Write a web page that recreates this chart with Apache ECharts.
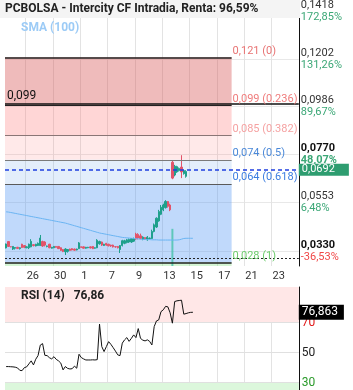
<!DOCTYPE html>
<html>
<head>
<meta charset="utf-8">
<script src="https://cdn.jsdelivr.net/npm/echarts@6/dist/echarts.min.js"></script>
<style>
    html, body { margin: 0; padding: 0; background: #fff; }
    #chart { width: 353px; height: 390px; }
</style>
</head>
<body>
<div id="chart"></div>
<script>
    // slots on the x axis (intraday bars), date ticks every 12 slots
    var slotCount = 129;
    var dateTickSlots = [9, 21, 33, 45, 57, 69, 81, 93, 105, 117];
    var dateTicks = ['26', '30', '1', '7', '9', '13', '15', '17', '21', '23'];

    // [open, close, low, high]
    var candles = [
        [0.0345, 0.0363, 0.0343, 0.0365], [0.0374, 0.0352, 0.0350, 0.0376], [0.0351, 0.0350, 0.0348, 0.0352],
        [0.0340, 0.0352, 0.0336, 0.0353], [0.0344, 0.0347, 0.0338, 0.0349], [0.0348, 0.0343, 0.0340, 0.0350],
        [0.0342, 0.0346, 0.0338, 0.0348], [0.0362, 0.0347, 0.0345, 0.0364], [0.0356, 0.0348, 0.0344, 0.0358],
        [0.0346, 0.0350, 0.0344, 0.0352], [0.0346, 0.0362, 0.0340, 0.0365], [0.0350, 0.0375, 0.0348, 0.0385],
        [0.0360, 0.0356, 0.0352, 0.0362], [0.0354, 0.0362, 0.0352, 0.0364], [0.0356, 0.0366, 0.0354, 0.0370],
        [0.0356, 0.0390, 0.0354, 0.0404], [0.0374, 0.0354, 0.0350, 0.0378], [0.0372, 0.0358, 0.0352, 0.0376],
        [0.0352, 0.0354, 0.0348, 0.0356], [0.0362, 0.0346, 0.0344, 0.0364], [0.0344, 0.0348, 0.0342, 0.0350],
        [0.0346, 0.0352, 0.0344, 0.0354], [0.0352, 0.0348, 0.0346, 0.0354], [0.0352, 0.0342, 0.0340, 0.0354],
        [0.0346, 0.0334, 0.0332, 0.0348], [0.0338, 0.0329, 0.0326, 0.0340], [0.0328, 0.0340, 0.0313, 0.0344],
        [0.0330, 0.0338, 0.0324, 0.0340], [0.0340, 0.0334, 0.0332, 0.0342], [0.0342, 0.0336, 0.0334, 0.0344],
        [0.0340, 0.0335, 0.0333, 0.0342], [0.0336, 0.0340, 0.0334, 0.0342], [0.0342, 0.0368, 0.0340, 0.0372],
        [0.0350, 0.0348, 0.0345, 0.0352], [0.0350, 0.0344, 0.0342, 0.0352], [0.0344, 0.0348, 0.0342, 0.0350],
        [0.0346, 0.0348, 0.0344, 0.0350], [0.0350, 0.0345, 0.0343, 0.0352], [0.0352, 0.0342, 0.0340, 0.0354],
        [0.0344, 0.0346, 0.0342, 0.0348], [0.0346, 0.0380, 0.0344, 0.0385], [0.0364, 0.0374, 0.0360, 0.0378],
        [0.0372, 0.0358, 0.0354, 0.0374], [0.0356, 0.0362, 0.0354, 0.0364], [0.0366, 0.0358, 0.0355, 0.0368],
        [0.0362, 0.0355, 0.0352, 0.0364], [0.0358, 0.0354, 0.0350, 0.0360], [0.0358, 0.0350, 0.0347, 0.0360],
        [0.0351, 0.0350, 0.0346, 0.0352], [0.0352, 0.0346, 0.0343, 0.0354], [0.0338, 0.0356, 0.0322, 0.0358],
        [0.0356, 0.0378, 0.0352, 0.0382], [0.0366, 0.0378, 0.0362, 0.0382], [0.0370, 0.0382, 0.0366, 0.0386],
        [0.0372, 0.0384, 0.0368, 0.0388], [0.0372, 0.0388, 0.0368, 0.0390], [0.0376, 0.0386, 0.0372, 0.0392],
        [0.0408, 0.0386, 0.0382, 0.0414], [0.0406, 0.0390, 0.0384, 0.0412], [0.0400, 0.0388, 0.0384, 0.0410],
        [0.0384, 0.0394, 0.0380, 0.0398], [0.0392, 0.0386, 0.0382, 0.0394], [0.0382, 0.0394, 0.0378, 0.0399],
        [0.0388, 0.0390, 0.0384, 0.0392], [0.0388, 0.0420, 0.0386, 0.0428], [0.0420, 0.0450, 0.0416, 0.0456],
        [0.0440, 0.0480, 0.0436, 0.0484], [0.0468, 0.0510, 0.0464, 0.0518], [0.0498, 0.0530, 0.0494, 0.0540],
        [0.0518, 0.0540, 0.0512, 0.0546], [0.0528, 0.0556, 0.0524, 0.0562], [0.0556, 0.0534, 0.0528, 0.0558],
        [0.0540, 0.0518, 0.0512, 0.0546], [0.0734, 0.0662, 0.0657, 0.0743], [0.0676, 0.0716, 0.0670, 0.0722],
        [0.0690, 0.0714, 0.0686, 0.0718], [0.0696, 0.0706, 0.0692, 0.0710], [0.0712, 0.0690, 0.0662, 0.0766],
        [0.0682, 0.0696, 0.0678, 0.0700], [0.0670, 0.0692, 0.0664, 0.0698]
    ];

    var sma100 = [
        0.0509, 0.0508, 0.0506, 0.0504, 0.0502, 0.0500, 0.0498, 0.0496, 0.0494, 0.0492, 0.0490,
        0.0488, 0.0486, 0.0484, 0.0482, 0.0480, 0.0478, 0.0476, 0.0474, 0.0472, 0.0470,
        0.0468, 0.0466, 0.0464, 0.0462, 0.0460, 0.0458, 0.0455, 0.0452, 0.0449, 0.0446,
        0.0443, 0.0440, 0.0437, 0.0434, 0.0431, 0.0428, 0.0425, 0.0422, 0.0419, 0.0416,
        0.0413, 0.0411, 0.0409, 0.0407, 0.0405, 0.0403, 0.0401, 0.0399, 0.0397, 0.0395,
        0.0393, 0.0392, 0.0391, 0.0390, 0.0389, 0.0388, 0.0387, 0.0386, 0.0385, 0.0384,
        0.0384, 0.0383, 0.0383, 0.0382, 0.0382, 0.0382, 0.0381, 0.0381, 0.0381, 0.0381,
        0.0381, 0.0381, 0.0381, 0.0381, 0.0381, 0.0382, 0.0385, 0.0388, 0.0389, 0.0389, 0.0389, 0.0389
    ];

    // [slot, volume]
    var volumeBars = [[73, 14]];

    var rsi14 = [
        40.7, 40.7, 40.6, 40.5, 40.3, 39.8, 38.2, 38.0, 40.0, 40.5,
        42.5, 44.5, 41.8, 45.6, 48.0, 55.0, 56.0, 48.2, 48.0, 46.6,
        45.8, 47.3, 45.5, 44.5, 43.0, 38.5, 40.7, 39.5, 39.1, 39.3,
        41.0, 39.6, 48.9, 46.7, 45.8, 45.1, 45.1, 45.1, 45.2, 45.1,
        45.3, 69.0, 54.0, 50.7, 54.0, 57.3, 55.5, 53.3, 51.0, 48.5,
        48.0, 56.3, 58.5, 60.0, 57.5, 59.5, 61.8, 60.0, 66.0, 59.5,
        58.3, 57.8, 58.5, 57.5, 55.1, 67.3, 71.1, 71.8, 77.3, 78.5,
        80.8, 80.5, 76.5, 69.6, 84.0, 84.5, 84.7, 84.9, 75.6, 76.0,
        76.5, 76.8, 76.863
    ];

    // price axis
    var priceMin = 0.02632, priceMax = 0.14682;
    var priceTicks = [0.0330, 0.0553, 0.0770, 0.0986, 0.1202, 0.1418];
    var priceTickText = ['0,0330', '0,0553', '0,0770', '0,0986', '0,1202', '0,1418'];
    var priceTickPct = ['-36,53%', '6,48%', '48,07%', '89,67%', '131,26%', '172,85%'];
    var boldTicks = [0.0330, 0.0770];

    // fibonacci retracement 0.121 -> 0.028
    var fibHigh = 0.121, fibLow = 0.028;
    var fibRatios = [0, 0.236, 0.382, 0.5, 0.618, 1];
    var fibLabels = ['0,121 (0)', '0,099 (0.236)', '0,085 (0.382)', '0,074 (0.5)', '0,064 (0.618)', '0,028 (1)'];
    var fibLabelColors = ['#e87474', '#ef7c7c', '#f5a2a2', '#4a88d8', '#3b7de0', '#6ccc6c'];
    var fibLineColors = ['#222', '#222', '#8a7676', '#7a7a7a', '#5a5a5a', '#222'];
    var fibZoneColors = ['rgba(215,85,85,0.4)', 'rgba(255,120,120,0.3)', 'rgba(255,120,120,0.16)',
        'rgba(100,160,235,0.18)', 'rgba(80,150,245,0.36)', 'rgba(100,220,100,0.28)'];
    var fibEndSlot = 99;

    var hLine = 0.099, lastPrice = 0.0692, refPrice = 0.0343;

    var rsiMin = 25.1, rsiMax = 93.7, rsiLast = 76.863;
    var rsiTicks = [30, 50, 70];
    var rsiTickColors = ['#2a9a2a', '#222', '#e01818'];

    var categories = [];
    for (var i = 0; i < slotCount; i++) categories.push(String(i));
    function isDateSlot(index) { return dateTickSlots.indexOf(+index) >= 0; }

    var fibLevels = fibRatios.map(function (r) { return fibHigh - (fibHigh - fibLow) * r; });

    var fibAreas = [];
    for (var k = 0; k < fibLevels.length - 1; k++) {
        fibAreas.push([{ yAxis: fibLevels[k], itemStyle: { color: fibZoneColors[k] } },
            { xAxis: fibEndSlot, yAxis: fibLevels[k + 1] }]);
    }
    fibAreas.push([{ yAxis: fibLow, itemStyle: { color: fibZoneColors[5] } },
        { xAxis: fibEndSlot, yAxis: priceMin }]);

    // plot left edge in px, fib lines start there
    var plotLeft = 5;

    var markLines = [];
    fibLevels.forEach(function (lv, k) {
        // level line
        markLines.push([{
            x: plotLeft, yAxis: lv,
            lineStyle: { color: fibLineColors[k], width: (k === 0 || k === 5) ? 1.5 : 1, type: 'solid' },
            label: { show: false }
        }, { xAxis: fibEndSlot, yAxis: lv }]);
        // its caption, right of the fib box, sitting on the level
        markLines.push([{
            xAxis: fibEndSlot, yAxis: lv,
            lineStyle: { color: 'rgba(0,0,0,0)', width: 0 },
            label: { show: true, position: 'insideStartTop', formatter: fibLabels[k], color: fibLabelColors[k],
                fontSize: 11, distance: [1, 1] }
        }, { xAxis: slotCount - 1, yAxis: lv }]);
    });
    markLines.push({
        yAxis: hLine,
        lineStyle: { color: '#111', width: 1.5, type: 'solid' },
        label: { show: true, position: 'insideStartTop', formatter: '0,099', color: '#111', fontSize: 12, distance: 2 }
    });
    markLines.push({
        yAxis: refPrice,
        lineStyle: { color: '#222', width: 1, type: [2, 2] },
        label: { show: false }
    });
    markLines.push({
        yAxis: lastPrice,
        lineStyle: { color: '#1f3fe0', width: 1.5, type: [4, 3] },
        label: {
            show: true, position: 'end', formatter: '0,0692', color: '#fff', backgroundColor: '#2e9d70',
            fontSize: 11, padding: [1, 14, 0, 3], distance: 0
        }
    });

    // rsi guide lines with their scale labels on the right
    var rsiLines = rsiTicks.map(function (t, j) {
        return {
            yAxis: t, lineStyle: { color: '#e0e0e0', width: 1, type: 'solid' },
            label: { show: true, position: 'end', formatter: String(t), color: rsiTickColors[j], fontSize: 12, distance: 3 }
        };
    });
    rsiLines.push({
        yAxis: rsiLast, lineStyle: { color: 'rgba(0,0,0,0)', width: 0 },
        label: { show: true, position: 'end', formatter: '76,863', color: '#fff', backgroundColor: '#000',
            fontSize: 12, padding: [2, 6, 1, 3], distance: 0 }
    });

    var chart = echarts.init(document.getElementById('chart'));
    chart.setOption({
        animation: false,
        textStyle: { fontFamily: 'Roboto' },
        title: [
            { text: 'PCBOLSA - Intercity CF Intradia, Renta: 96,59%', left: 5, top: 3, padding: 0, z: 8,
              textStyle: { fontSize: 12, fontWeight: 'bold', color: '#222', fontFamily: 'Roboto' } },
            { text: 'SMA (100)', left: 21, top: 22, padding: 0,
              textStyle: { fontSize: 12, fontWeight: 'bold', color: '#9ccbf6', fontFamily: 'Roboto' } },
            { text: 'RSI (14)   76,86', left: 21, top: 290, padding: 0,
              textStyle: { fontSize: 12, fontWeight: 'bold', color: '#222', fontFamily: 'Roboto' } }
        ],
        graphic: [
            { type: 'rect', left: 0, top: 0, z: 5, shape: { width: 300, height: 18 }, style: { fill: '#f4f4f4' } }
        ],
        grid: [
            { left: 5, top: 0, width: 293.8, height: 266 },
            { left: 5, top: 287, width: 293.8, height: 103 }
        ],
        xAxis: [
            {
                type: 'category', gridIndex: 0, data: categories, boundaryGap: true,
                axisLine: { show: false }, axisTick: { show: false },
                axisLabel: {
                    interval: function (index) { return isDateSlot(index); },
                    formatter: function (v) { return dateTicks[dateTickSlots.indexOf(+v)]; },
                    align: 'left', fontSize: 11, color: '#333', margin: 5
                },
                splitLine: { show: true, interval: function (index) { return isDateSlot(index); },
                    lineStyle: { color: '#e3e3e3', width: 1 } }
            },
            {
                type: 'category', gridIndex: 1, data: categories, boundaryGap: true,
                axisLine: { show: false }, axisTick: { show: false }, axisLabel: { show: false },
                splitLine: { show: true, interval: function (index) { return isDateSlot(index); },
                    lineStyle: { color: '#e3e3e3', width: 1 } }
            }
        ],
        yAxis: [
            {
                type: 'value', gridIndex: 0, position: 'right', min: priceMin, max: priceMax,
                axisLine: { show: true, lineStyle: { color: '#111', width: 1 } },
                axisTick: { show: false, customValues: priceTicks },
                splitLine: { show: true, lineStyle: { color: '#e8e8e8' } },
                axisLabel: {
                    customValues: priceTicks, margin: 2, align: 'left',
                    formatter: function (v) {
                        var idx = -1;
                        priceTicks.forEach(function (t, j) { if (Math.abs(t - v) < 1e-6) idx = j; });
                        if (idx < 0) return '';
                        var bold = boldTicks.indexOf(priceTicks[idx]) >= 0;
                        var neg = priceTickPct[idx].charAt(0) === '-';
                        return '{' + (bold ? 'vb' : 'v') + '|' + priceTickText[idx] + '}\n{' +
                            (neg ? 'pn' : (bold ? 'pb' : 'p')) + '|' + priceTickPct[idx] + '}';
                    },
                    rich: {
                        v: { color: '#333', fontSize: 11, lineHeight: 12 },
                        vb: { color: '#111', fontSize: 11, lineHeight: 12, fontWeight: 'bold' },
                        p: { color: '#3ba776', fontSize: 11, lineHeight: 12 },
                        pb: { color: '#3ba776', fontSize: 11, lineHeight: 12, fontWeight: 'bold' },
                        pn: { color: '#f04646', fontSize: 11, lineHeight: 12 }
                    }
                }
            },
            { type: 'value', gridIndex: 0, min: 0, max: 100, show: false, splitLine: { show: false } },
            {
                type: 'value', gridIndex: 1, position: 'right', min: rsiMin, max: rsiMax,
                axisLine: { show: true, lineStyle: { color: '#111', width: 1 } },
                axisTick: { show: false }, axisLabel: { show: false }, splitLine: { show: false }
            }
        ],
        series: [
            {
                type: 'candlestick', xAxisIndex: 0, yAxisIndex: 0, data: candles,
                barWidth: 1.8,
                itemStyle: { color: '#1fa08c', color0: '#e2546a', borderColor: '#1fa08c', borderColor0: '#e2546a', borderWidth: 1 },
                markArea: { silent: true, data: fibAreas },
                markLine: { silent: true, symbol: 'none', data: markLines }
            },
            {
                type: 'line', xAxisIndex: 0, yAxisIndex: 0, data: sma100, showSymbol: false,
                lineStyle: { color: '#6ab4f2', width: 1 }, z: 3
            },
            {
                type: 'bar', xAxisIndex: 0, yAxisIndex: 1, data: volumeBars, barWidth: 2,
                itemStyle: { color: 'rgba(70,195,170,0.8)' }
            },
            {
                type: 'line', xAxisIndex: 1, yAxisIndex: 2, data: rsi14, showSymbol: false,
                lineStyle: { color: '#111', width: 1 },
                markArea: { silent: true, data: [
                    [{ yAxis: 70, itemStyle: { color: '#ffe7e7' } }, { yAxis: rsiMax }],
                    [{ yAxis: rsiMin, itemStyle: { color: '#dcf7dc' } }, { yAxis: 30 }]
                ] },
                markLine: { silent: true, symbol: 'none', z: 1, data: rsiLines }
            }
        ]
    });
</script>
</body>
</html>
